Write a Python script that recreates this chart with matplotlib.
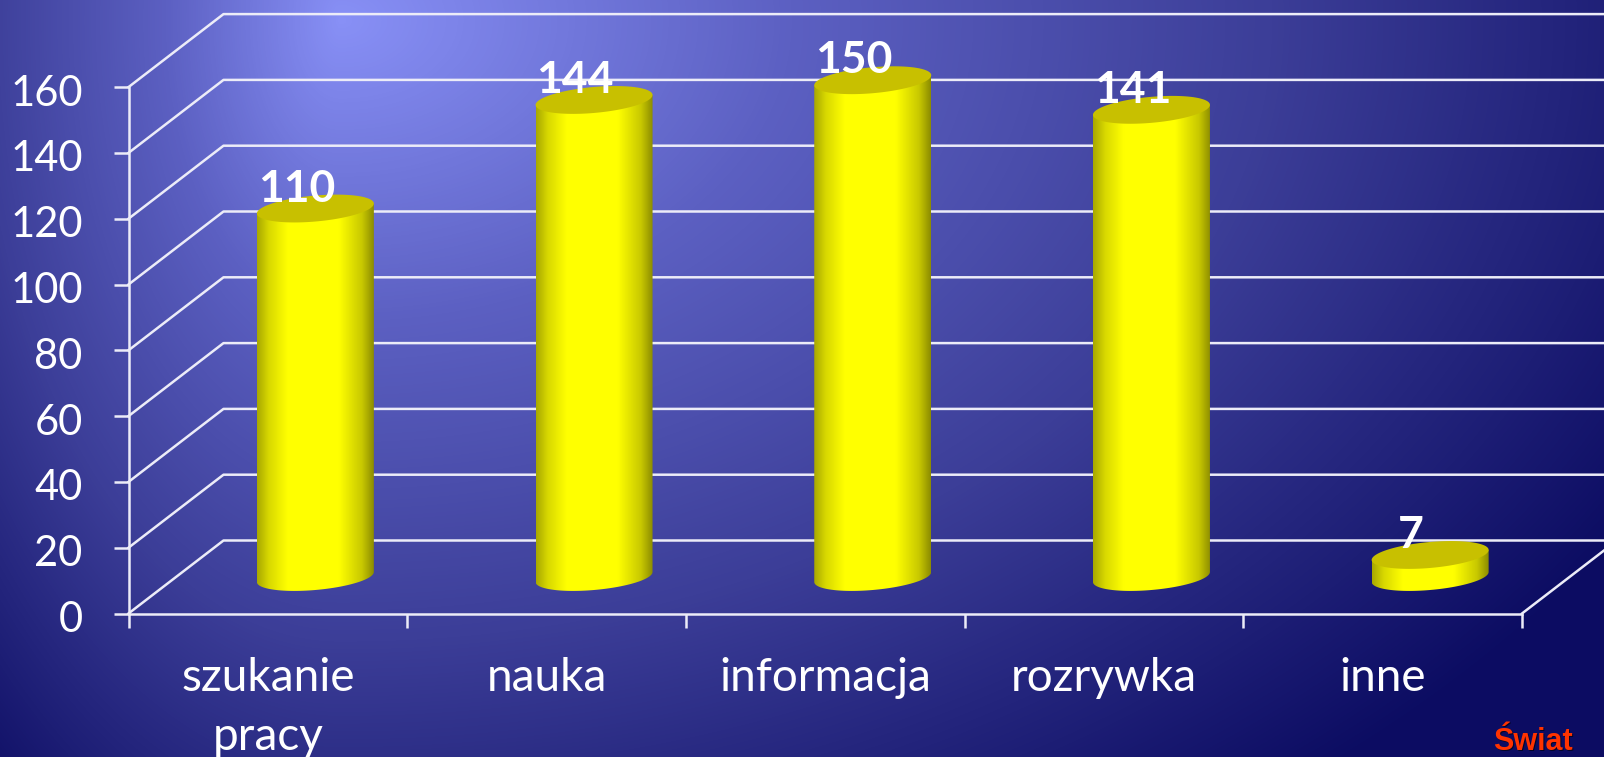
import numpy as np
import matplotlib
matplotlib.use("Agg")
import matplotlib.pyplot as plt
from matplotlib.colors import LinearSegmentedColormap
from matplotlib.patches import Polygon
from matplotlib.transforms import ScaledTranslation

# Datos
categorias = ["szukanie\npracy", "nauka", "informacja", "rozrywka", "inne"]
valores = [110, 144, 150, 141, 7]
alturas = [112, 145, 151, 142, 6.7]  # alto dibujado de cada cilindro
y_ticks = [0, 20, 40, 60, 80, 100, 120, 140, 160]

W, H = 1604, 757
px_x = 278.7  # pixeles por categoria
px_y = 3.29   # pixeles por unidad
x0_px, y0_px = 128.5, 613.5
dx = 95 / px_x   # profundidad del grafico 3D
dy = 73 / px_y

plt.rcParams['font.family'] = ['Lato', 'DejaVu Sans']
fig = plt.figure(figsize=(W / 100, H / 100), dpi=100)

# Fondo con degradado
ax_bg = fig.add_axes([0, 0, 1, 1])
ax_bg.axis('off')
xx, yy = np.meshgrid(np.arange(W), np.arange(H))
sx = np.where(xx < 340, 580, 1500)
t = np.clip(np.sqrt(((xx - 340) / sx) ** 2 + ((yy - 20) / 1000) ** 2), 0, 1)
fondo = LinearSegmentedColormap.from_list(
    'fondo', [(0, '#8890f6'), (0.3, '#5c60c2'), (0.62, '#3c3e98'), (1, '#0c0c62')])
ax_bg.imshow(t, cmap=fondo, vmin=0, vmax=1, aspect='auto')

ax = fig.add_axes([0, 0, 1, 1], facecolor='none')
blanco = '#ecECF8'

# Paredes y lineas de la grilla
for v in y_ticks:
    ax.plot([0, dx, (W - x0_px) / px_x], [v, v + dy, v + dy], color=blanco, lw=1.8, zorder=1)
ax.plot([5, 5 + dx], [0, dy], color=blanco, lw=1.8, zorder=1)

# Cilindros
cuerpo = LinearSegmentedColormap.from_list(
    'cuerpo',
    [(0, '#a8a800'), (0.1, '#d8d800'), (0.26, '#ffff00'), (0.7, '#ffff00'), (0.9, '#c8c800'), (1, '#8c8c00')])
w = 58.5 / px_x
h = 13 / px_y
k = 5 / px_y
ang = np.linspace(0, 2 * np.pi, 121)
ang_b = np.linspace(np.pi, 2 * np.pi, 61)
for i, (v, alto) in enumerate(zip(valores, alturas)):
    cx = i + 0.5 + dx / 2
    base = dy / 2
    top = base + alto
    xb = cx + w * np.cos(ang_b)
    yb = base + h * np.sin(ang_b) + k * np.cos(ang_b)
    xs = np.r_[xb, cx + w, cx - w]
    ys = np.r_[yb, top + k, top - k]
    poly = Polygon(np.c_[xs, ys], closed=True, fc='none', ec='none', transform=ax.transData)
    ax.add_patch(poly)
    im = ax.imshow(np.linspace(0, 1, 256)[None, :], cmap=cuerpo, aspect='auto', zorder=3,
                   extent=[cx - w, cx + w, base - 10, top + 10])
    im.set_clip_path(poly)
    ax.fill(cx + w * np.cos(ang), top + h * np.sin(ang) + k * np.cos(ang), color='#c8c000', zorder=4, lw=0)
    ax.text(cx - 19 / px_x, top + 20 / px_y, str(v), color='white', fontsize=32, fontweight='bold',
            ha='center', va='center', zorder=5)

# Ejes
ax.set_xlim(-x0_px / px_x, (W - x0_px) / px_x)
ax.set_ylim(-(H - y0_px) / px_y, y0_px / px_y)
for s in ['top', 'right']:
    ax.spines[s].set_visible(False)
ax.spines['left'].set_position(('data', 0))
ax.spines['bottom'].set_position(('data', 0))
ax.spines['left'].set_bounds(0, 160)
ax.spines['bottom'].set_bounds(0, 5)
ax.spines['left'].set_color(blanco)
ax.spines['bottom'].set_color(blanco)
ax.spines['left'].set_linewidth(1.8)
ax.spines['bottom'].set_linewidth(1.8)
ax.set_yticks(y_ticks)
ax.set_xticks(range(6))
ax.set_xticklabels([])
ax.set_xticks(np.arange(5) + 0.5, categorias, minor=True)
ax.tick_params(axis='y', colors=blanco, length=11, width=1.8, pad=22, labelsize=30, labelcolor='white')
ax.tick_params(axis='x', which='major', colors=blanco, length=10, width=1.8)
ax.tick_params(axis='x', which='minor', length=0, pad=31, labelsize=33, labelcolor='white')
for lab in ax.get_xticklabels(minor=True):
    lab.set_linespacing(1.5)
# bajar un poco las etiquetas del eje y
bajar = ScaledTranslation(0, -3 / 100, fig.dpi_scale_trans)
for lab in ax.get_yticklabels():
    lab.set_transform(lab.get_transform() + bajar)

# Marca abajo a la derecha
fig.text(1534 / W, 1 - 751 / H, "Świat", color='black', fontsize=22, fontweight='bold',
         family=['Liberation Sans'], ha='center', va='baseline', alpha=0.6)
fig.text(1533 / W, 1 - 750 / H, "Świat", color='#ff3300', fontsize=22, fontweight='bold',
         family=['Liberation Sans'], ha='center', va='baseline')

fig.savefig('out.png', dpi=100)
